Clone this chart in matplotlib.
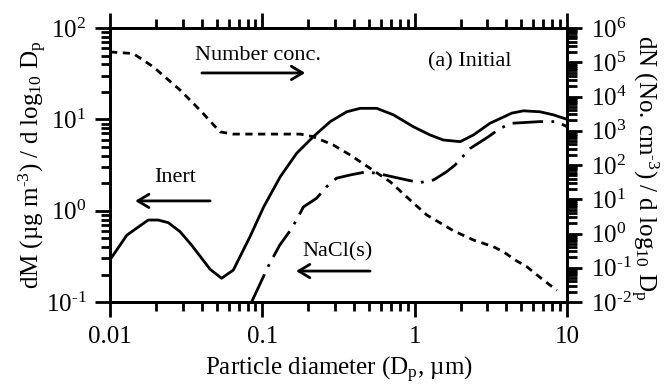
import matplotlib
matplotlib.use('Agg')
import matplotlib.pyplot as plt
from matplotlib.ticker import LogLocator, FuncFormatter, NullFormatter
import numpy as np

plt.rcParams['font.family'] = ['Liberation Serif', 'DejaVu Serif']
plt.rcParams['mathtext.fontset'] = 'custom'
plt.rcParams['mathtext.rm'] = 'Liberation Serif'
plt.rcParams['mathtext.it'] = 'Liberation Serif'
plt.rcParams['mathtext.default'] = 'regular'

# inert mass distribution (left axis)
inert_d = [0.01, 0.0129, 0.0178, 0.0207, 0.0241, 0.0288, 0.0343, 0.0454, 0.054,
           0.0645, 0.083, 0.102, 0.131, 0.168, 0.216, 0.279, 0.358, 0.438, 0.564,
           0.725, 0.98, 1.26, 1.54, 1.99, 2.43, 3.12, 4.34, 5.17, 6.65, 8.14, 10.0]
inert_m = [0.29, 0.54, 0.79, 0.79, 0.74, 0.59, 0.42, 0.228, 0.182,
           0.224, 0.52, 1.1, 2.35, 4.26, 6.46, 9.45, 12.1, 13.2, 13.2,
           11.2, 8.3, 6.75, 5.94, 5.7, 6.75, 9.06, 11.7, 12.4, 12.1, 11.2, 10.0]

# NaCl(s) mass distribution (left axis)
nacl_d = [0.085, 0.109, 0.13, 0.156, 0.177, 0.186, 0.227, 0.264, 0.307, 0.377,
          0.484, 0.593, 0.887, 1.08, 1.33, 1.62, 1.84, 2.31, 3.05, 3.64, 4.34,
          6.65, 8.57, 10.0]
nacl_m = [0.10, 0.244, 0.42, 0.64, 0.94, 1.1, 1.37, 1.83, 2.27, 2.46,
          2.67, 2.52, 2.17, 2.03, 2.17, 2.67, 3.16, 4.8, 6.46, 7.98, 9.06,
          9.45, 9.45, 8.3]

# number distribution (right axis)
num_d = [0.01, 0.0142, 0.0192, 0.0288, 0.039, 0.0527, 0.0645, 0.177, 0.216, 0.292,
         0.377, 0.51, 0.689, 0.933, 1.2, 1.62, 1.79, 2.43, 3.28, 3.82, 4.57,
         5.45, 6.98, 8.57]
num_n = [2.0e5, 1.8e5, 7.4e4, 1.55e4, 4.0e3, 930, 800, 800, 670, 384,
         196, 80, 32.6, 9.5, 3.47, 1.58, 1.21, 0.646, 0.412, 0.294, 0.168,
         0.107, 0.044, 0.022]

x_ticks = [0.01, 0.1, 1, 10]


def pow10_label(v, pos):
    # short hyphen in the exponent, as in the printed figure
    e = int(round(np.log10(v)))
    if e < 0:
        return r'$10^{\text{-}%d}$' % (-e)
    return r'$10^{%d}$' % e


def style_log_axis(axis):
    axis.set_major_locator(LogLocator(base=10, numticks=20))
    axis.set_minor_locator(LogLocator(base=10, subs=range(2, 10), numticks=20))
    axis.set_minor_formatter(NullFormatter())


def create_graph():
    fig = plt.figure(figsize=(6.64, 3.87), dpi=100)
    ax = fig.add_axes([0.1657, 0.2196, 0.6883, 0.708])
    ax2 = ax.twinx()

    ax.plot(inert_d, inert_m, color='black', lw=2.0)
    ax.plot(nacl_d, nacl_m, color='black', lw=2.0, dashes=(11, 3, 1, 3))
    ax2.plot(num_d, num_n, color='black', lw=2.0, dashes=(2.6, 2.0))

    ax.set_xscale('log')
    ax.set_yscale('log')
    ax2.set_yscale('log')
    ax.set_xlim(0.01, 10)
    ax.set_ylim(0.1, 100)
    ax2.set_ylim(0.01, 1e6)

    style_log_axis(ax.xaxis)
    style_log_axis(ax.yaxis)
    style_log_axis(ax2.yaxis)
    ax.xaxis.set_major_formatter(FuncFormatter(lambda v, p: '%g' % v))
    ax.set_xticks(x_ticks)
    ax.yaxis.set_major_formatter(FuncFormatter(pow10_label))
    ax2.yaxis.set_major_formatter(FuncFormatter(pow10_label))

    for a in (ax, ax2):
        for s in a.spines.values():
            s.set_linewidth(2)
    ax.tick_params(which='both', direction='out', width=2, labelsize=18,
                   top=True, right=False)
    ax.tick_params(axis='x', pad=6)
    ax.tick_params(axis='y', pad=6)
    ax.tick_params(which='major', length=11)
    ax.tick_params(which='minor', length=6.5)
    ax2.tick_params(which='both', direction='out', width=2, labelsize=18, pad=6)
    ax2.tick_params(which='major', length=11)
    ax2.tick_params(which='minor', length=7)

    ax.set_xlabel('Particle diameter (D$_p$, \u00b5m)', fontsize=18, labelpad=5)
    ax.set_ylabel('dM (\u00b5g m' + r'$^{\text{-}3}$) / d log$_{10}$ D$_p$', fontsize=18)
    ax.yaxis.set_label_coords(-0.17, 0.5)
    ax.yaxis.label.set_va('center')
    ax2.set_ylabel(r'dN (No. cm$^{\text{-}3}$) / d log$_{10}$ D$_p$', fontsize=18,
                   rotation=270)
    ax2.yaxis.set_label_coords(1.168, 0.49)
    ax2.yaxis.label.set_va('center')

    head = '->, head_length=0.5, head_width=0.3'
    ax.text(0.324, 0.901, 'Number conc.', transform=ax.transAxes, fontsize=16,
            ha='center', va='center')
    ax.annotate('', xy=(0.427, 0.836), xytext=(0.201, 0.836),
                xycoords='axes fraction', textcoords='axes fraction',
                arrowprops=dict(arrowstyle=head, lw=2, color='black', mutation_scale=16,
                                shrinkA=0, shrinkB=0))
    ax.text(0.788, 0.876, '(a) Initial', transform=ax.transAxes, fontsize=16,
            ha='center', va='center')
    ax.text(0.142, 0.453, 'Inert', transform=ax.transAxes, fontsize=16,
            ha='center', va='center')
    ax.annotate('', xy=(0.055, 0.369), xytext=(0.219, 0.369),
                xycoords='axes fraction', textcoords='axes fraction',
                arrowprops=dict(arrowstyle=head, lw=2, color='black', mutation_scale=16,
                                shrinkA=0, shrinkB=0))
    ax.text(0.497, 0.182, 'NaCl(s)', transform=ax.transAxes, fontsize=16,
            ha='center', va='center')
    ax.annotate('', xy=(0.407, 0.113), xytext=(0.569, 0.113),
                xycoords='axes fraction', textcoords='axes fraction',
                arrowprops=dict(arrowstyle=head, lw=2, color='black', mutation_scale=16,
                                shrinkA=0, shrinkB=0))

    fig.savefig('out.png', dpi=100)
    plt.close(fig)


if __name__ == "__main__":
    create_graph()
